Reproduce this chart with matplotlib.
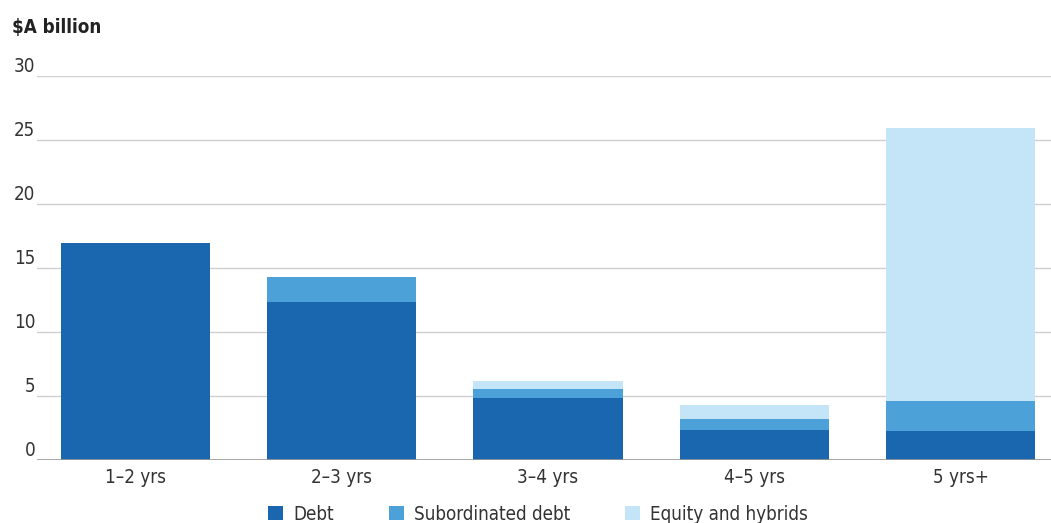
import matplotlib
matplotlib.use('Agg')
import matplotlib.pyplot as plt
import numpy as np

categories = ['1–2 yrs', '2–3 yrs', '3–4 yrs', '4–5 yrs', '5 yrs+']
debt = [17.0, 12.35, 4.85, 2.35, 2.3]
subordinated = [0.0, 1.95, 0.7, 0.85, 2.35]
equity = [0.0, 0.0, 0.6, 1.1, 21.3]
yticks = [0, 5, 10, 15, 20, 25, 30]

col_debt = '#1a67b0'
col_sub = '#4ca1d8'
col_eq = '#c3e5f7'

plt.rcParams['font.family'] = ['DejaVu Sans']
plt.rcParams['font.stretch'] = 'condensed'

fig = plt.figure(figsize=(10.51, 5.23), dpi=100)
ax = fig.add_axes([37 / 1051, 1 - 460 / 523, 1 - 37 / 1051, (460 - 76.3) / 523])

x = np.arange(len(categories))
w = 0.723
debt = np.array(debt)
subordinated = np.array(subordinated)
equity = np.array(equity)
ax.bar(x, debt, w, color=col_debt, label='Debt', zorder=3)
ax.bar(x, subordinated, w, bottom=debt, color=col_sub, label='Subordinated debt', zorder=3)
ax.bar(x, equity, w, bottom=debt + subordinated, color=col_eq, label='Equity and hybrids', zorder=3)

ax.set_xlim(-0.477, 4.438)
ax.set_ylim(0, 30)
ax.set_yticks(yticks)
ax.set_yticklabels([])
for t in yticks:
    if t == 0:
        ax.axhline(t, color='#999999', lw=1.2, zorder=4)
    else:
        ax.axhline(t, color='#d0d0d0', lw=1.0, zorder=1)
    ax.text(-0.0015, t, str(t), transform=ax.get_yaxis_transform(), ha='right', va='bottom',
            fontsize=13.5, color='#333333')

ax.set_xticks(x)
ax.set_xticklabels(categories, fontsize=13.5, color='#333333')
ax.tick_params(axis='both', length=0)
ax.tick_params(axis='x', pad=6)
for s in ax.spines.values():
    s.set_visible(False)

fig.text(12 / 1051, 1 - 28 / 523, '$A billion', fontsize=13.5, fontweight='bold',
         color='#222222', va='center', ha='left')

fig.legend(loc='center', bbox_to_anchor=(0.512, 0.017), ncol=3, frameon=False,
           fontsize=13.5, handlelength=0.8, handleheight=0.8, handletextpad=0.55,
           columnspacing=2.9, labelcolor='#333333')

fig.savefig('out.png', dpi=100)
